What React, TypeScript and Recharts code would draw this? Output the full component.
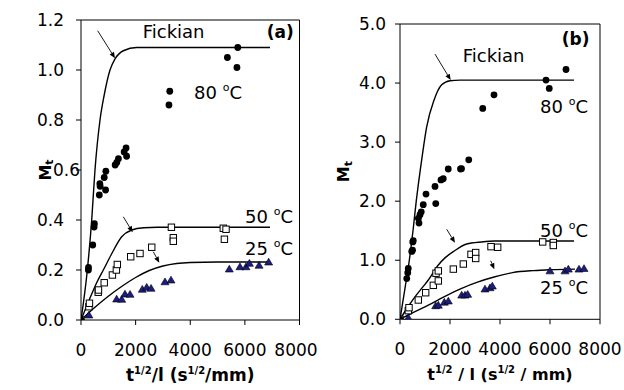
import React from 'react';
import { ComposedChart, XAxis, YAxis, Line, Scatter, ReferenceLine, ReferenceDot, Label } from 'recharts';

const FONT = '"DejaVu Sans", sans-serif';

const xTicks = [0, 2000, 4000, 6000, 8000];
const yTicksA = [0, 0.2, 0.4, 0.6, 0.8, 1.0, 1.2];
const yTicksB = [0, 1, 2, 3, 4, 5];

// Panel (a) measured points
const a80 = [
  { x: 0, y: 0 }, { x: 270, y: 0.2 }, { x: 275, y: 0.21 }, { x: 430, y: 0.3 }, { x: 480, y: 0.372 },
  { x: 490, y: 0.385 }, { x: 670, y: 0.5 }, { x: 690, y: 0.545 }, { x: 700, y: 0.535 }, { x: 850, y: 0.57 },
  { x: 900, y: 0.52 }, { x: 910, y: 0.595 }, { x: 1250, y: 0.62 }, { x: 1310, y: 0.63 }, { x: 1370, y: 0.645 },
  { x: 1580, y: 0.672 }, { x: 1650, y: 0.688 }, { x: 1670, y: 0.655 }, { x: 3220, y: 0.86 }, { x: 3250, y: 0.915 },
  { x: 5360, y: 1.05 }, { x: 5710, y: 1.01 }, { x: 5740, y: 1.09 },
];
const a50 = [
  { x: 0, y: 0 }, { x: 290, y: 0.053 }, { x: 310, y: 0.067 }, { x: 630, y: 0.111 }, { x: 640, y: 0.12 },
  { x: 850, y: 0.149 }, { x: 1150, y: 0.18 }, { x: 1295, y: 0.2 }, { x: 1330, y: 0.222 }, { x: 1820, y: 0.253 },
  { x: 2160, y: 0.266 }, { x: 2590, y: 0.291 }, { x: 3310, y: 0.371 }, { x: 3380, y: 0.329 }, { x: 3380, y: 0.315 },
  { x: 5210, y: 0.367 }, { x: 5310, y: 0.363 }, { x: 5250, y: 0.323 },
];
const a25 = [
  { x: 0, y: 0 }, { x: 290, y: 0.02 }, { x: 1305, y: 0.084 }, { x: 1490, y: 0.083 }, { x: 1610, y: 0.104 },
  { x: 1795, y: 0.103 }, { x: 2245, y: 0.123 }, { x: 2405, y: 0.131 }, { x: 2565, y: 0.127 }, { x: 3075, y: 0.153 },
  { x: 3295, y: 0.16 }, { x: 5430, y: 0.204 }, { x: 5820, y: 0.213 }, { x: 6040, y: 0.213 }, { x: 6165, y: 0.227 },
  { x: 6520, y: 0.219 }, { x: 6870, y: 0.232 },
];
const aFick80 = [
  { x: 0, y: 0 }, { x: 232, y: 0.2 }, { x: 392, y: 0.4 }, { x: 512, y: 0.6 }, { x: 696, y: 0.8 }, { x: 850, y: 0.9 },
  { x: 1062, y: 1.0 }, { x: 1245, y: 1.044 }, { x: 1550, y: 1.077 }, { x: 2040, y: 1.09 }, { x: 6920, y: 1.09 },
];
const aFick50 = [
  { x: 0, y: 0 }, { x: 300, y: 0.08 }, { x: 600, y: 0.155 }, { x: 817, y: 0.2 }, { x: 1100, y: 0.26 },
  { x: 1490, y: 0.333 }, { x: 1856, y: 0.36 }, { x: 2300, y: 0.369 }, { x: 2800, y: 0.371 }, { x: 6920, y: 0.371 },
];
const aFick25 = [
  { x: 0, y: 0 }, { x: 500, y: 0.05 }, { x: 1000, y: 0.095 }, { x: 1500, y: 0.135 }, { x: 2000, y: 0.17 },
  { x: 2500, y: 0.198 }, { x: 3000, y: 0.216 }, { x: 3500, y: 0.226 }, { x: 4000, y: 0.23 }, { x: 5000, y: 0.232 },
  { x: 6900, y: 0.232 },
];

// Panel (b) measured points
const b80 = [
  { x: 0, y: 0 }, { x: 270, y: 0.69 }, { x: 310, y: 0.79 }, { x: 330, y: 0.86 }, { x: 470, y: 1.15 }, { x: 500, y: 1.17 },
  { x: 510, y: 1.31 }, { x: 530, y: 1.33 }, { x: 735, y: 1.71 }, { x: 760, y: 1.63 }, { x: 800, y: 1.77 },
  { x: 850, y: 1.82 }, { x: 930, y: 1.94 }, { x: 1040, y: 2.12 }, { x: 1400, y: 2.25 }, { x: 1430, y: 1.96 },
  { x: 1640, y: 2.36 }, { x: 1730, y: 2.38 }, { x: 1930, y: 2.545 }, { x: 2420, y: 2.545 }, { x: 2460, y: 2.55 },
  { x: 2750, y: 2.7 }, { x: 3310, y: 3.57 }, { x: 3760, y: 3.8 }, { x: 5840, y: 4.05 }, { x: 5970, y: 3.91 },
  { x: 6640, y: 4.23 },
];
const b50 = [
  { x: 0, y: 0 }, { x: 333, y: 0.146 }, { x: 360, y: 0.197 }, { x: 733, y: 0.327 }, { x: 1027, y: 0.45 },
  { x: 1333, y: 0.575 }, { x: 1533, y: 0.65 }, { x: 1440, y: 0.78 }, { x: 1533, y: 0.82 }, { x: 2133, y: 0.85 },
  { x: 2533, y: 0.936 }, { x: 2840, y: 1.1 }, { x: 3027, y: 1.13 }, { x: 3027, y: 1.03 }, { x: 3640, y: 1.23 },
  { x: 3907, y: 1.22 }, { x: 5707, y: 1.31 }, { x: 6133, y: 1.3 }, { x: 6133, y: 1.25 },
];
const b25 = [
  { x: 0, y: 0 }, { x: 333, y: 0.027 }, { x: 1427, y: 0.23 }, { x: 1533, y: 0.24 }, { x: 1773, y: 0.29 },
  { x: 1933, y: 0.31 }, { x: 2467, y: 0.41 }, { x: 2600, y: 0.41 }, { x: 2707, y: 0.423 }, { x: 3400, y: 0.513 },
  { x: 3600, y: 0.535 }, { x: 3693, y: 0.564 }, { x: 6000, y: 0.82 }, { x: 6600, y: 0.82 }, { x: 6733, y: 0.85 },
  { x: 7160, y: 0.85 }, { x: 7360, y: 0.86 },
];
const bFick80 = [
  { x: 0, y: 0 }, { x: 190, y: 0.5 }, { x: 373, y: 1.0 }, { x: 520, y: 1.5 }, { x: 650, y: 2.0 }, { x: 867, y: 2.7 },
  { x: 1067, y: 3.26 }, { x: 1360, y: 3.71 }, { x: 1667, y: 3.97 }, { x: 2000, y: 4.04 }, { x: 2400, y: 4.05 },
  { x: 6960, y: 4.05 },
];
const bFick50 = [
  { x: 0, y: 0 }, { x: 300, y: 0.2 }, { x: 600, y: 0.38 }, { x: 900, y: 0.54 }, { x: 1133, y: 0.665 },
  { x: 1533, y: 0.92 }, { x: 1800, y: 1.04 }, { x: 2133, y: 1.145 }, { x: 2667, y: 1.275 }, { x: 3267, y: 1.31 },
  { x: 3800, y: 1.325 }, { x: 6960, y: 1.325 },
];
const bFick25 = [
  { x: 0, y: 0 }, { x: 500, y: 0.11 }, { x: 1133, y: 0.24 }, { x: 1800, y: 0.39 }, { x: 2467, y: 0.525 },
  { x: 3100, y: 0.63 }, { x: 3800, y: 0.72 }, { x: 4500, y: 0.79 }, { x: 5333, y: 0.825 }, { x: 6000, y: 0.84 },
  { x: 7000, y: 0.85 },
];

// Annotation arrows (data coordinates)
const arrowsA = [
  { x1: 611, y1: 1.157, x2: 1245, y2: 1.047 },
  { x1: 1549, y1: 0.413, x2: 1893, y2: 0.351 },
  { x1: 2647, y1: 0.273, x2: 2867, y2: 0.229 },
];
const arrowsB = [
  { x1: 1400, y1: 4.49, x2: 2028, y2: 4.05 },
  { x1: 1868, y1: 1.524, x2: 2200, y2: 1.297 },
  { x1: 3628, y1: 0.992, x2: 3772, y2: 0.847 },
];

// Annotation texts (data coordinates of baseline start)
const labelsA = [
  { x: 2259, y: 1.128, text: 'Fickian', deg: false, bold: false },
  { x: 6800, y: 1.128, text: '(a)', deg: false, bold: true },
  { x: 4138, y: 0.884, text: '80', deg: true, bold: false },
  { x: 6005, y: 0.389, text: '50', deg: true, bold: false },
  { x: 6005, y: 0.26, text: '25', deg: true, bold: false },
];
const labelsB = [
  { x: 2508, y: 4.35, text: 'Fickian', deg: false, bold: false },
  { x: 6468, y: 4.64, text: '(b)', deg: false, bold: true },
  { x: 5600, y: 3.5, text: '80', deg: true, bold: false },
  { x: 5600, y: 1.39, text: '50', deg: true, bold: false },
  { x: 5600, y: 0.42, text: '25', deg: true, bold: false },
];

const CircleShape = (p: any) => <circle cx={p.cx} cy={p.cy} r={3.4} fill="#000" />;
const SquareShape = (p: any) => (
  <rect x={p.cx - 3.2} y={p.cy - 3.2} width={6.4} height={6.4} fill="#fff" stroke="#000" strokeWidth={1} />
);
const TriShape = (p: any) => (
  <polygon
    points={`${p.cx},${p.cy - 3.8} ${p.cx + 4},${p.cy + 3} ${p.cx - 4},${p.cy + 3}`}
    fill="#1c1c82"
    stroke="#000"
    strokeWidth={0.6}
  />
);

const ArrowShape = (p: any) => {
  const { x1, y1, x2, y2 } = p;
  const dx = x2 - x1;
  const dy = y2 - y1;
  const len = Math.sqrt(dx * dx + dy * dy) || 1;
  const ux = dx / len;
  const uy = dy / len;
  const hl = 6;
  const hw = 2.5;
  const bx = x2 - ux * hl;
  const by = y2 - uy * hl;
  return (
    <g>
      <line x1={x1} y1={y1} x2={bx} y2={by} stroke="#000" strokeWidth={0.9} />
      <polygon
        points={`${x2},${y2} ${bx - uy * hw},${by + ux * hw} ${bx + uy * hw},${by - ux * hw}`}
        fill="#000"
      />
    </g>
  );
};

const makeTextShape = (l: any) => (p: any) => (
  <text
    x={p.cx}
    y={p.cy}
    fontFamily={FONT}
    fontSize={l.bold ? 17 : 18}
    fontWeight={l.bold ? 'bold' : 'normal'}
    fill="#000"
  >
    {l.deg ? (
      <>
        {l.text + ' '}
        <tspan dy={-8} fontSize={11}>o</tspan>
        <tspan dy={8}>C</tspan>
      </>
    ) : (
      l.text
    )}
  </text>
);

type PanelProps = {
  left: number;
  margin: { top: number; right: number; bottom: number; left: number };
  yDomain: [number, number];
  yTicks: number[];
  yLabelGap: number;
  shiftTick: number | null;
  s80: any[];
  s50: any[];
  s25: any[];
  f80: any[];
  f50: any[];
  f25: any[];
  arrows: any[];
  labels: any[];
  spaced: boolean;
  yLabelDx: number;
};

const Panel = (props: PanelProps) => {
  const { margin, yDomain, yTicks } = props;
  const axisLeft = margin.left + 50;
  const renderXLabel = (lp: any) => {
    const vb = lp.viewBox;
    const cx = vb.x + vb.width / 2;
    const cy = vb.y + 61;
    const sp = props.spaced ? ' ' : '';
    return (
      <text x={cx} y={cy} textAnchor="middle" fontFamily={FONT} fontSize={props.spaced ? 16 : 17} fontWeight="bold" fill="#000">
        t<tspan dy={-7} fontSize={10}>1/2</tspan>
        <tspan dy={7}>{`${sp}/${sp}l (s`}</tspan>
        <tspan dy={-7} fontSize={10}>1/2</tspan>
        <tspan dy={7}>{`${sp}/${sp}mm)`}</tspan>
      </text>
    );
  };
  const renderYLabel = (lp: any) => {
    const vb = lp.viewBox;
    const cx = vb.x + props.yLabelDx;
    const cy = vb.y + vb.height / 2;
    return (
      <text
        x={cx}
        y={cy}
        transform={`rotate(-90, ${cx}, ${cy})`}
        textAnchor="middle"
        dominantBaseline="central"
        fontFamily={FONT}
        fontSize={16}
        fontWeight="bold"
        fill="#000"
      >
        M<tspan dy={4} fontSize={11}>t</tspan>
      </text>
    );
  };
  const renderXTick = (tp: any) => (
    <text x={tp.x} y={tp.y} dy={30.5} textAnchor="middle" fontFamily={FONT} fontSize={17} fill="#000">
      {tp.payload.value}
    </text>
  );
  const renderYTick = (tp: any) => {
    const v = tp.payload.value;
    const shifted = props.shiftTick !== null && Math.abs(v - props.shiftTick) < 1e-9;
    const xr = axisLeft - props.yLabelGap + (shifted ? 16 : 0);
    return (
      <text x={xr} y={tp.y} dy="0.36em" textAnchor="end" fontFamily={FONT} fontSize={17} fill="#000">
        {Number(v).toFixed(1)}
      </text>
    );
  };
  return (
    <div style={{ position: 'absolute', left: props.left, top: 0 }}>
      <ComposedChart width={312} height={390} margin={margin}>
        <XAxis
          type="number"
          dataKey="x"
          domain={[0, 8000]}
          ticks={xTicks}
          allowDataOverflow
          stroke="#000"
          tickSize={5}
          tickMargin={0}
          height={30}
          tick={renderXTick}
          tickLine={{ stroke: '#000' }}
        >
          <Label content={renderXLabel} />
        </XAxis>
        <YAxis
          type="number"
          dataKey="y"
          domain={yDomain}
          ticks={yTicks}
          allowDataOverflow
          stroke="#000"
          width={50}
          tickSize={5}
          tickMargin={0}
          tick={renderYTick}
          tickLine={{ stroke: '#000' }}
        >
          <Label content={renderYLabel} />
        </YAxis>
        <ReferenceLine y={yDomain[1]} stroke="#000" />
        <ReferenceLine x={8000} stroke="#000" />
        <Line data={props.f80} dataKey="y" type="monotone" stroke="#000" strokeWidth={1.4} dot={false} isAnimationActive={false} />
        <Line data={props.f50} dataKey="y" type="monotone" stroke="#000" strokeWidth={1.4} dot={false} isAnimationActive={false} />
        <Line data={props.f25} dataKey="y" type="monotone" stroke="#000" strokeWidth={1.4} dot={false} isAnimationActive={false} />
        <Scatter data={props.s50} dataKey="y" shape={SquareShape} isAnimationActive={false} />
        <Scatter data={props.s25} dataKey="y" shape={TriShape} isAnimationActive={false} />
        <Scatter data={props.s80} dataKey="y" shape={CircleShape} isAnimationActive={false} />
        {props.arrows.map((a, i) => (
          <ReferenceLine
            key={`ar${i}`}
            segment={[{ x: a.x1, y: a.y1 }, { x: a.x2, y: a.y2 }]}
            shape={ArrowShape}
          />
        ))}
        {props.labels.map((l, i) => (
          <ReferenceDot key={`lb${i}`} x={l.x} y={l.y} r={0} shape={makeTextShape(l)} />
        ))}
      </ComposedChart>
    </div>
  );
};

export default function App() {
  return (
    <div style={{ position: 'absolute', left: 0, top: 0, width: 624, height: 390, background: '#fff', overflow: 'hidden' }}>
      <style>{`.recharts-surface{overflow:visible}`}</style>
      <Panel
        left={0}
        margin={{ top: 20, right: 12.5, bottom: 40, left: 31 }}
        yDomain={[0, 1.2]}
        yTicks={yTicksA}
        yLabelGap={17}
        shiftTick={0.6}
        s80={a80}
        s50={a50}
        s25={a25}
        f80={aFick80}
        f50={aFick50}
        f25={aFick25}
        arrows={arrowsA}
        labels={labelsA}
        spaced={false}
        yLabelDx={14}
      />
      <Panel
        left={312}
        margin={{ top: 24, right: 24, bottom: 40.7, left: 38 }}
        yDomain={[0, 5]}
        yTicks={yTicksB}
        yLabelGap={14}
        shiftTick={null}
        s80={b80}
        s50={b50}
        s25={b25}
        f80={bFick80}
        f50={bFick50}
        f25={bFick25}
        arrows={arrowsB}
        labels={labelsB}
        spaced={true}
        yLabelDx={-6}
      />
    </div>
  );
}
